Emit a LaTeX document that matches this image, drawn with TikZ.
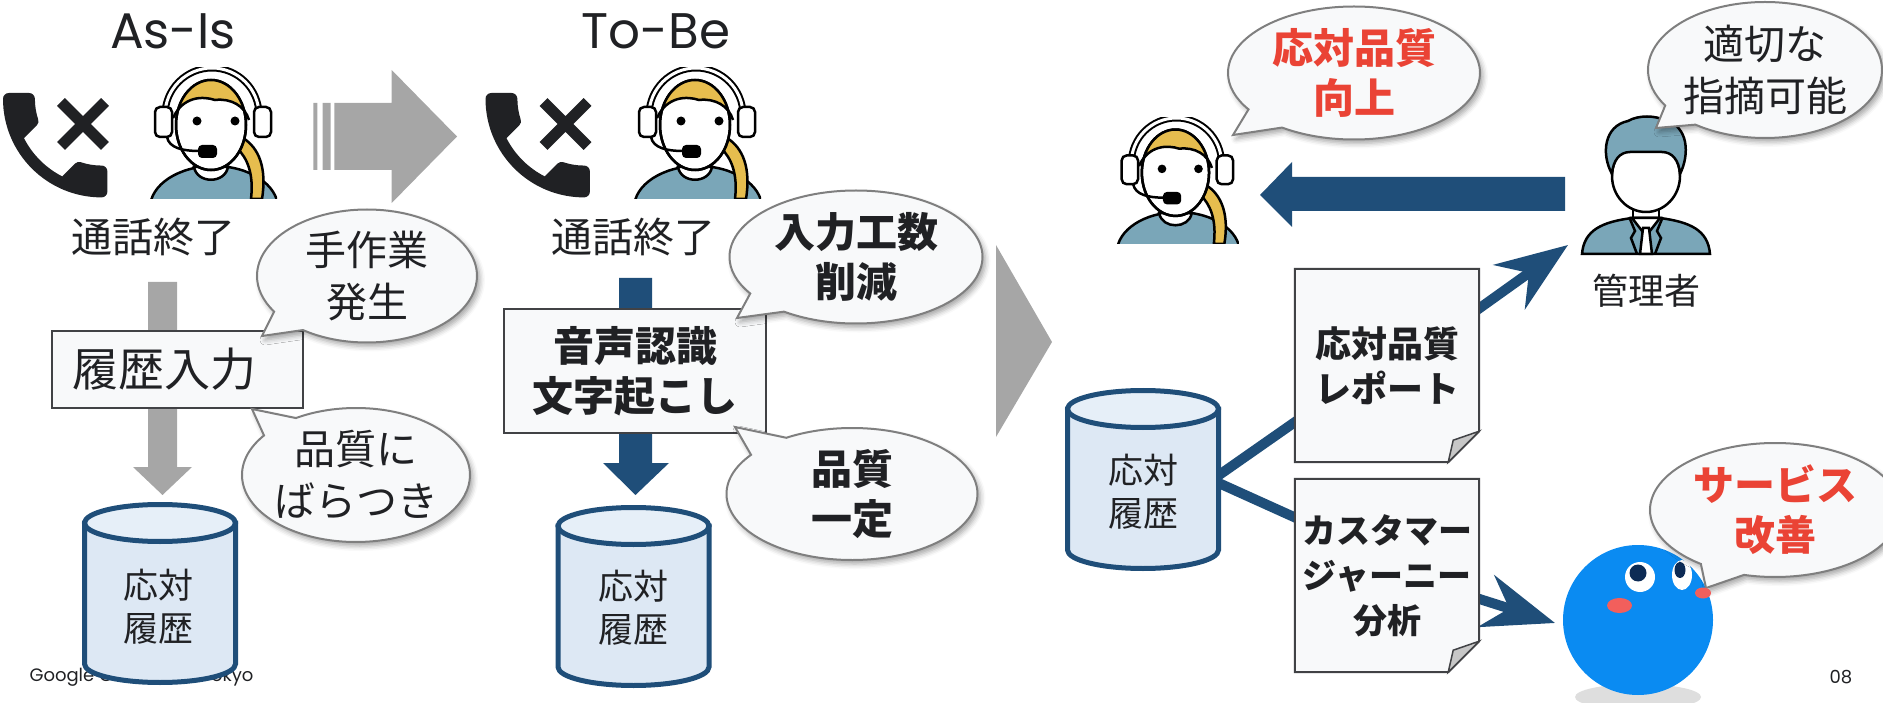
\documentclass[tikz,border=0pt]{standalone}
\usepackage{fontspec}
\usepackage{tikz}
\usetikzlibrary{arrows.meta,shapes.callouts,shadows.blur,svg.path}

\newfontfamily\jp{Noto Sans CJK JP}
\newfontfamily\gs{Poppins}

\definecolor{ink}{HTML}{202124}
\definecolor{navy}{HTML}{1F4E79}
\definecolor{steel}{HTML}{A6A6A6}
\definecolor{paper}{HTML}{F8F9FA}
\definecolor{rim}{HTML}{7F7F7F}
\definecolor{dbbody}{HTML}{DDE8F4}
\definecolor{dbtop}{HTML}{E6EFF8}
\definecolor{alert}{HTML}{EA4335}
\definecolor{shirt}{HTML}{7AA6B8}
\definecolor{hair}{HTML}{E6BD4E}
\definecolor{ball}{HTML}{0A8BF2}
\definecolor{cheek}{HTML}{F25F5C}
\definecolor{pupil}{HTML}{0D2B55}

\tikzset{
  % handset with a cross
  phone/.pic={
    \begin{scope}[shift={(-17.4pt,17.4pt)}, xscale=5.8, yscale=-5.8]
      \fill[ink] svg {M 6.62 10.79 c 1.44 2.83 3.76 5.14 6.59 6.59 l 2.2 -2.2 c 0.27 -0.27 0.67 -0.36 1.02 -0.24 c 1.12 0.37 2.33 0.57 3.57 0.57 c 0.55 0 1 0.45 1 1 V 20 c 0 0.55 -0.45 1 -1 1 c -9.39 0 -17 -7.61 -17 -17 c 0 -0.55 0.45 -1 1 -1 h 3.5 c 0.55 0 1 0.45 1 1 c 0 1.25 0.2 2.45 0.57 3.57 c 0.11 0.35 0.03 0.74 -0.25 1.02 l -2.2 2.2 z};
    \end{scope}
    \draw[ink, line width=11pt] (58,9) -- (102,53) (102,9) -- (58,53);
  },
  % operator with headset
  operator/.pic={
    \begin{scope}[line width=2.5pt]
      \clip (0,0) rectangle (130,131);
      \filldraw[fill=shirt] (67,140) ellipse[x radius=64, y radius=42];
      \filldraw[fill=hair] (96,70) .. controls (112,80) and (120,100) .. (115,131) -- (104,131) .. controls (107,105) and (100,90) .. (90,80) -- cycle;
      \filldraw[fill=white] (47,99) .. controls (50,116) and (78,116) .. (81,99) -- cycle;
      \filldraw[fill=white] (64,57) ellipse[x radius=35, y radius=45];
      \begin{scope}
        \clip (64,57) ellipse[x radius=35, y radius=45];
        \fill[hair] (26,50) .. controls (36,28) and (56,28) .. (68,32) .. controls (84,30) and (98,38) .. (102,52) -- (102,0) -- (26,0) -- cycle;
      \end{scope}
      \draw (26,50) .. controls (36,28) and (56,28) .. (68,32) .. controls (84,30) and (98,38) .. (102,52);
      \draw (64,57) ellipse[x radius=35, y radius=45];
      \draw[line width=2pt, double=white, double distance=3pt] (18,47) arc[start angle=180, end angle=360, radius=47];
      \filldraw[fill=white, rounded corners=5pt] (8,39) rectangle (25,69);
      \filldraw[fill=white, rounded corners=5pt] (107,39) rectangle (124,69);
      \fill (50,53) circle[radius=4.5];
      \fill (88,53) circle[radius=4.5];
      \draw (20,69) .. controls (22,80) and (36,83) .. (52,83);
      \fill[rounded corners=4pt] (51,77) rectangle (70,90);
    \end{scope}
  },
  % manager in a suit
  manager/.pic={
    \begin{scope}[line width=2.5pt]
      \filldraw[fill=white] (49,86) rectangle (75,108);
      \filldraw[fill=shirt] (-2,142) .. controls (0,118) and (18,110) .. (48,106) -- (76,106) .. controls (106,110) and (124,118) .. (126,142) -- cycle;
      \filldraw[fill=white] (48,106) -- (62,124) -- (76,106) -- cycle;
      \filldraw[fill=white] (59,116) -- (65,116) -- (68,142) -- (56,142) -- cycle;
      \draw (46,107) -- (51,119) -- (47,126) -- (53,142);
      \draw (78,107) -- (73,119) -- (77,126) -- (71,142);
      \filldraw[fill=white] (62,64) ellipse[x radius=34, y radius=36];
      \filldraw[fill=shirt] (28,62) .. controls (17,42) and (20,14) .. (44,9) .. controls (54,3) and (72,3) .. (82,9) .. controls (104,14) and (106,42) .. (96,62) .. controls (95,48) and (88,40) .. (78,40) -- (46,40) .. controls (36,40) and (29,48) .. (28,62) -- cycle;
    \end{scope}
  },
  % history database
  db/.pic={
    \filldraw[draw=navy, line width=5pt, fill=dbbody] (-75.5,21) -- (-75.5,162) arc[start angle=180, end angle=0, x radius=75.5, y radius=18.5] -- (75.5,21) -- cycle;
    \filldraw[draw=navy, line width=5pt, fill=dbtop] (0,21) ellipse[x radius=75.5, y radius=18.5];
  }
}

\begin{document}
\begin{tikzpicture}[x=1pt, y=-1pt,
    every node/.style={text=ink},
    bubble/.style={ellipse callout, draw=rim, line width=2pt, fill=paper, inner sep=-40pt,
      callout pointer arc=22, align=center,
      blur shadow={shadow xshift=3pt, shadow yshift=-4pt, shadow blur radius=5pt, shadow opacity=35}},
    say/.style={font=\jp\fontsize{41}{52}\selectfont},
    shout/.style={font=\jp\bfseries\fontsize{41}{50}\selectfont},
    title/.style={font=\gs\fontsize{50}{60}\selectfont},
    procbox/.style={rectangle, draw=ink!85, line width=1.5pt, fill=paper},
    doc/.style={rectangle, fill=paper, minimum width=184pt, minimum height=193pt, inner sep=0pt, align=center},
    docline/.style={draw=ink!85, line width=2pt},
    fold/.style={draw=ink!85, line width=1.5pt, fill=black!22},
    dbtext/.style={font=\jp\fontsize{35}{43}\selectfont, align=center},
    link/.style={draw=navy, line width=10pt},
    flow/.style={link, -{Stealth[length=72pt, width=54pt, inset=24pt]}},
  ]
  \useasboundingbox (0,0) rectangle (1883,703);
  \clip (0,0) rectangle (1883,703);

  % footer (partly hidden by the first database)
  \node[font=\gs\fontsize{18}{22}\selectfont, anchor=west] (event) at (26,677) {Google Cloud Next Tokyo};
  \node[font=\gs\fontsize{18}{22}\selectfont] (page) at (1841,677) {08};

  % ---- As-Is ----
  \node[title] (asis) at (173,31) {As-Is};
  \pic at (3,93) {phone};
  \pic at (147,68) {operator};
  \node[say] (end1) at (153.5,237) {通話終了};

  % gray flow down to the database
  \fill[steel] (148,282) -- (177,282) -- (177,467) -- (192,467) -- (162.5,495) -- (133,467) -- (148,467) -- cycle;
  \node[procbox, minimum width=251pt, minimum height=77pt, text width=211pt, inner xsep=20pt, align=left,
        font=\jp\fontsize{46}{52}\selectfont] (input) at (177.5,369.5) {履歴入力};
  \pic at (160,502) {db};
  \node[dbtext] (hist1) at (158,606.5) {応対\\履歴};

  \node[bubble, say, minimum width=220pt, minimum height=133pt, callout absolute pointer={(262,336)}] (manual) at (367,276) {手作業\\発生};
  \node[bubble, say, minimum width=228pt, minimum height=134pt, callout absolute pointer={(252,409)}] (uneven) at (356,475) {品質に\\ばらつき};

  % As-Is -> To-Be
  \fill[steel] (313.3,103) rectangle (317.3,170) (322.7,103) rectangle (330.7,170);
  \fill[steel] (334.3,103) -- (391.7,103) -- (391.7,70) -- (457,136.5) -- (391.7,203) -- (391.7,170) -- (334.3,170) -- cycle;

  % ---- To-Be ----
  \node[title] (tobe) at (656,31) {To-Be};
  \pic at (485.5,93) {phone};
  \pic at (631,68) {operator};
  \node[say] (end2) at (633,237) {通話終了};

  % speech recognition flow
  \fill[navy] (619,278) -- (652,278) -- (652,463) -- (669,463) -- (635.5,495) -- (603,463) -- (619,463) -- cycle;
  \node[procbox, minimum width=262pt, minimum height=124pt, align=center, font=\jp\bfseries\fontsize{41}{50}\selectfont] (asr) at (635,371) {音声認識\\文字起こし};
  \pic at (633.5,505) {db};
  \node[dbtext] (hist2) at (633,608) {応対\\履歴};

  \node[bubble, shout, minimum width=253pt, minimum height=133pt, callout absolute pointer={(737,318)}] (less) at (856,257) {入力工数\\削減};
  \node[bubble, shout, minimum width=251pt, minimum height=132pt, callout absolute pointer={(735,427)}] (steady) at (852,494) {品質\\一定};

  % next step
  \fill[steel] (996,245) -- (1052,342) -- (996,437) -- cycle;

  % ---- results ----
  \coordinate (hub) at (1212,480);
  \coordinate (repin) at (1305,415);
  \coordinate (jrnin) at (1305,522);
  \coordinate (repout) at (1470,315);
  \coordinate (jrnout) at (1470,596);
  \coordinate (mgrin) at (1568,245);
  \coordinate (ballin) at (1555,623);
  \draw[link] (hub) -- (repin);
  \draw[link] (hub) -- (jrnin);
  \draw[flow] (repout) -- (mgrin);
  \draw[flow] (jrnout) -- (ballin);

  \pic at (1143,388) {db};
  \node[dbtext] (hist3) at (1143,491.5) {応対\\履歴};

  \node[doc, font=\jp\bfseries\fontsize{36}{45}\selectfont] (report) at (1387,365.5) {応対品質\\レポート};
  \node[doc, font=\jp\bfseries\fontsize{34}{45}\selectfont] (journey) at (1387,575.5) {カスタマー\\ジャーニー\\分析};
  \foreach \d in {report,journey} {
    \fill[white] ([yshift=31pt]\d.south east) -- ([xshift=-31pt]\d.south east) -- ([xshift=2pt,yshift=-2pt]\d.south east) -- cycle;
    \draw[docline] (\d.north west) -- (\d.north east) -- ([yshift=31pt]\d.south east) -- ([xshift=-31pt]\d.south east) -- (\d.south west) -- cycle;
    \filldraw[fold] ([yshift=31pt]\d.south east) -- ([xshift=-31pt]\d.south east) -- ([xshift=-26pt,yshift=22pt]\d.south east) -- cycle;
  }

  % feedback from manager to operator
  \pic[scale=0.96] at (1114,118) {operator};
  \fill[navy] (1565,177) -- (1292,177) -- (1292,162) -- (1260,195) -- (1292,227) -- (1292,211) -- (1565,211) -- cycle;
  \pic at (1584,112) {manager};
  \node[font=\jp\fontsize{36}{40}\selectfont] (mgr) at (1646,291) {管理者};

  % mascot
  \fill[black!13] (1638,697) ellipse[x radius=63, y radius=13];
  \fill[ball] (1638,620) circle[radius=75];
  \fill[white] (1640,577) ellipse[x radius=15, y radius=15];
  \fill[pupil] (1638,573) circle[radius=8.5];
  \fill[white] (1682,575) ellipse[x radius=10, y radius=15];
  \fill[pupil] (1680,570) ellipse[x radius=5.5, y radius=8];
  \fill[cheek] (1619.5,605.5) ellipse[x radius=12.5, y radius=7.5];

  \node[bubble, shout, text=alert, minimum width=252pt, minimum height=133pt, callout absolute pointer={(1233,135)}] (better) at (1354,73) {応対品質\\向上};
  \node[bubble, say, minimum width=234pt, minimum height=136pt, callout absolute pointer={(1656,128)}] (advice) at (1765,70) {適切な\\指摘可能};
  \node[bubble, shout, text=alert, minimum width=250pt, minimum height=134pt, callout absolute pointer={(1706,588)}] (service) at (1775,510) {サービス\\改善};
  \fill[cheek] (1703,593) ellipse[x radius=8, y radius=5.5];
\end{tikzpicture}
\end{document}
